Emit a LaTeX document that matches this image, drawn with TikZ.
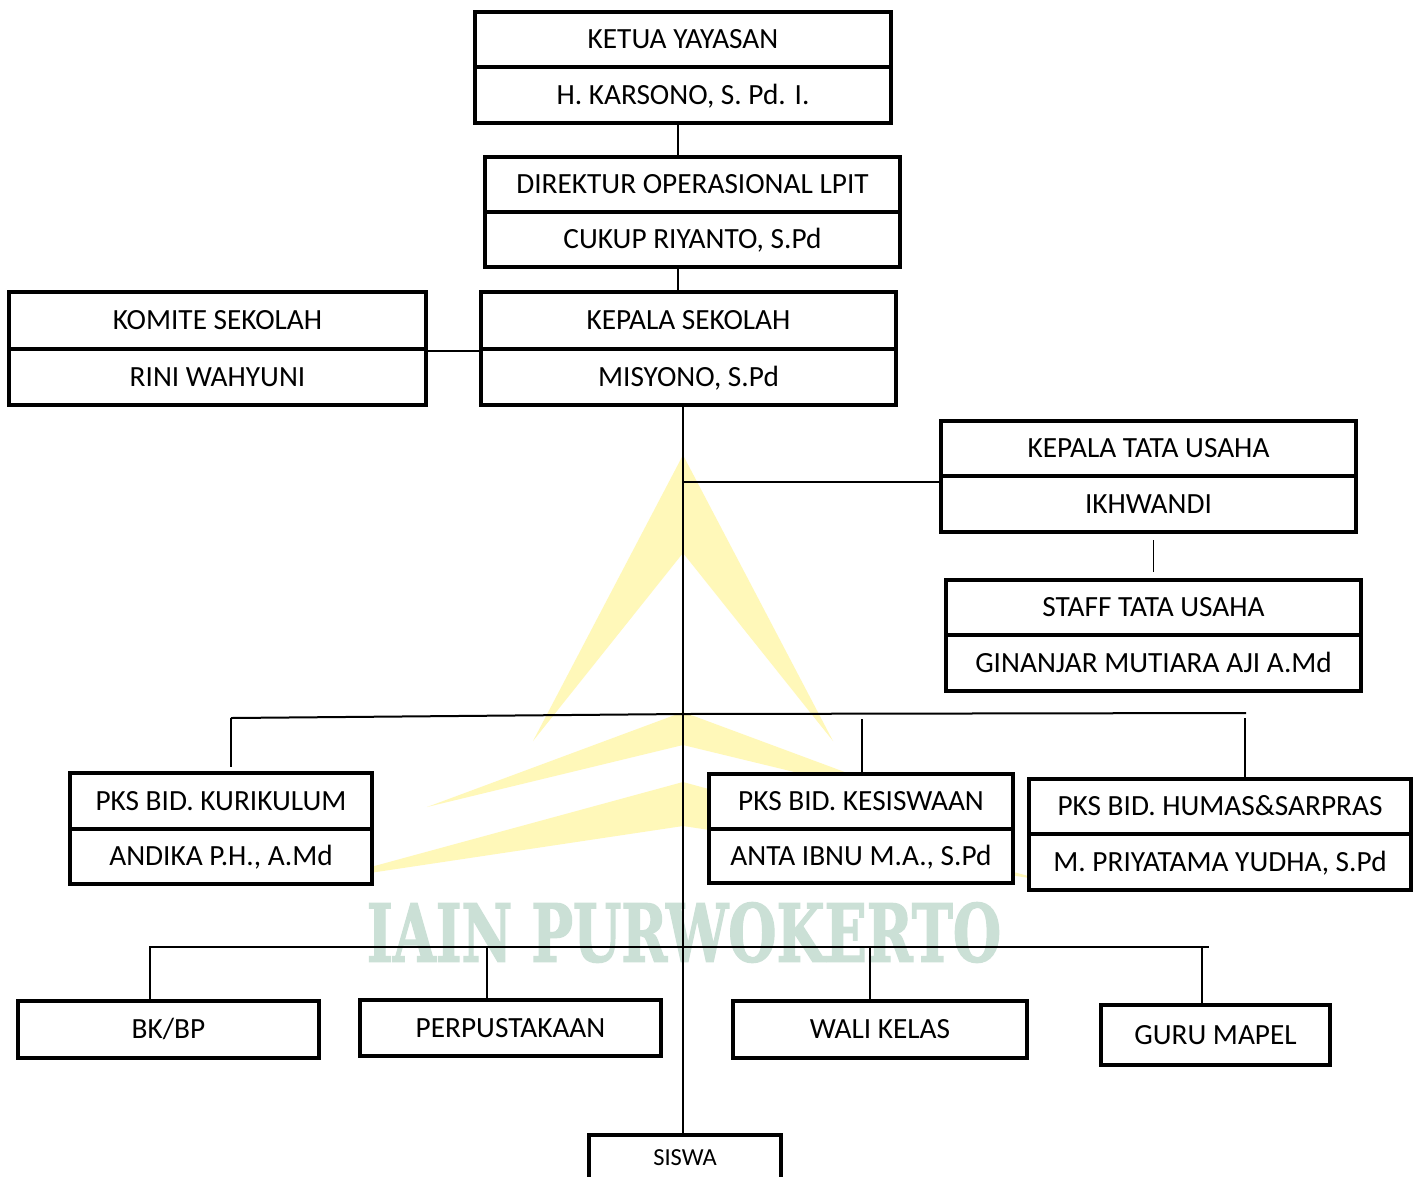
\documentclass[tikz,border=0pt]{standalone}
\usepackage{fontspec}
\setmainfont{Carlito}
\newfontfamily\wmfont[FakeBold=2]{DejaVu Serif}
\usepackage{graphicx}
\definecolor{wmyellow}{RGB}{255,248,185}
\definecolor{wmgreen}{RGB}{203,224,214}
\newcommand\onebox[6]{% name, x1, y1, x2, y2, text
  \node[cell, minimum width={#4-#2}, minimum height={#5-#3}]
    (#1) at ({(#2+#4)/2},{(#3+#5)/2}) {#6};}
\newcommand\dbox[8]{% name, x1, y1, ymid, x2, y2, top, bottom
  \onebox{#1-t}{#2}{#3}{#5}{#4}{#7}
  \onebox{#1-b}{#2}{#4}{#5}{#6}{#8}}
\begin{document}
\begin{tikzpicture}[x=1pt,y=-1pt,
  cell/.style={draw, line width=3.5pt, fill=white, inner sep=0pt,
    font=\fontsize{29.3}{34}\selectfont, text height=18.8pt, text depth=0pt},
  small/.style={font=\fontsize{24.5}{29}\selectfont, text height=15.8pt},
  conn/.style={line width=1.6pt},
  bus/.style={line width=2pt}]
\useasboundingbox (0,0) rectangle (1413,1176);
\fill[white] (0,0) rectangle (1413,1176);
% watermark
\fill[wmyellow] (683,455) -- (533,741) -- (683,553) -- (833,741) -- cycle;
\fill[wmyellow] (427,807) -- (683,712) -- (939,807) -- (683,745) -- cycle;
\fill[wmyellow] (323,880) -- (683,782) -- (1043,880) -- (683,826) -- cycle;
\node[inner sep=0pt, text=wmgreen] (wm) at (684,932.5)
  {\resizebox{634pt}{59pt}{\wmfont\bfseries IAIN PURWOKERTO}};
% boxes
\dbox{ketua}{475}{12}{67}{891}{123}{KETUA YAYASAN}{H. KARSONO, S. Pd. I.}
\dbox{dir}{485}{157}{212}{900}{267}{DIREKTUR OPERASIONAL LPIT}{CUKUP RIYANTO, S.Pd}
\dbox{komite}{9}{292}{349}{426}{405}{KOMITE SEKOLAH}{RINI WAHYUNI}
\dbox{kepala}{481}{292}{349}{896}{405}{KEPALA SEKOLAH}{MISYONO, S.Pd}
\dbox{ktu}{941}{421}{476}{1356}{532}{KEPALA TATA USAHA}{IKHWANDI}
\dbox{staff}{946}{580}{635}{1361}{691}{STAFF TATA USAHA}{GINANJAR MUTIARA AJI A.Md}
\dbox{kur}{70}{773}{829}{372}{884}{PKS BID. KURIKULUM}{ANDIKA P.H., A.Md}
\dbox{kes}{709}{774}{829}{1013}{883}{PKS BID. KESISWAAN}{ANTA IBNU M.A., S.Pd}
\dbox{hum}{1029}{779}{834}{1411}{890}{PKS BID. HUMAS\&SARPRAS}{M. PRIYATAMA YUDHA, S.Pd}
\onebox{bk}{18}{1001}{319}{1058}{BK/BP}
\onebox{perp}{360}{1000}{661}{1056}{PERPUSTAKAAN}
\onebox{wali}{733}{1001}{1027}{1058}{WALI KELAS}
\onebox{guru}{1101}{1005}{1330}{1065}{GURU MAPEL}
\node[cell, small, minimum width=192, minimum height=46] (siswa) at (685,1158) {SISWA};
% connectors
\coordinate (c1) at ([xshift=-5pt]ketua-b.south);
\draw[conn] (c1) -- (c1 |- dir-t.north);
\draw[conn] (c1 |- dir-b.south) -- (c1 |- kepala-t.north);
\draw[conn] (komite-t.south east) -- (kepala-t.south west);
\coordinate (sp) at ([xshift=-5.5pt]kepala-b.south);
\draw[conn] (sp) -- (sp |- siswa.north);
\coordinate (ktuin) at ([yshift=-8pt]ktu-b.north west);
\draw[bus] (sp |- ktuin) -- (ktuin);
\coordinate (st1) at ([yshift=38pt]staff-t.north);
\coordinate (st2) at ([yshift=6pt]staff-t.north);
\draw[conn] (st1) -- (st2);
% upper bus
\coordinate (ub1) at (231,718);
\coordinate (ub2) at (683,714);
\coordinate (ub3) at (1246,713);
\draw[bus] (ub1) -- (ub2) -- (ub3);
\draw[conn, shorten >=4pt] (ub1) -- (ub1 |- kur-t.north);
\coordinate (ud2) at (862,719);
\draw[conn, shorten >=-3pt] (ud2) -- (ud2 |- kes-t.north);
\coordinate (ud3) at (1245,718);
\draw[conn] (ud3) -- (ud3 |- hum-t.north);
% lower bus
\coordinate (lb1) at (149,947);
\coordinate (lb2) at (1209,947);
\draw[bus] (lb1) -- (lb2);
\coordinate (ld1) at (150,947);
\coordinate (ld2) at (487,947);
\coordinate (ld3) at (870,947);
\coordinate (ld4) at (1202,947);
\draw[conn] (ld1) -- (ld1 |- bk.north);
\draw[conn] (ld2) -- (ld2 |- perp.north);
\draw[conn] (ld3) -- (ld3 |- wali.north);
\draw[conn] (ld4) -- (ld4 |- guru.north);
\end{tikzpicture}
\end{document}
